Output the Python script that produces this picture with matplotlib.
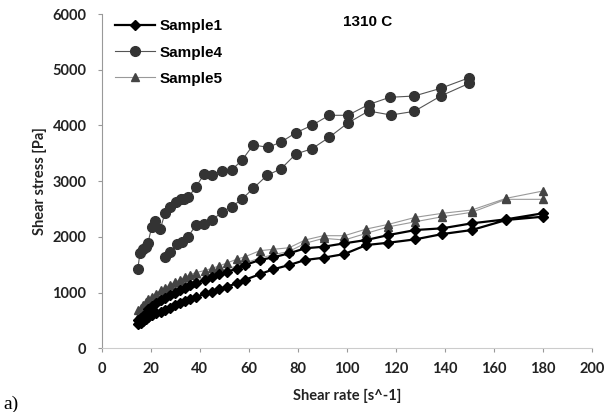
import matplotlib
matplotlib.use("Agg")
import matplotlib.pyplot as plt

plt.rcParams['font.family'] = ['Lato', 'DejaVu Sans']

# shear rate grid for Sample1 / Sample5 (up and down ramps share it)
rate_15 = [15, 16, 17, 18, 19, 20.5, 22, 24, 26, 28, 30, 32, 34, 36, 38.5, 42, 45,
           48, 51, 55, 58.5, 64.5, 70, 76.5, 83, 90.5, 99, 108, 117, 128, 139,
           151, 165, 180]

s1_low = [430, 460, 490, 520, 560, 590, 625, 655, 690, 730, 770, 820, 850, 880,
          915, 985, 1015, 1060, 1105, 1165, 1230, 1330, 1418, 1495, 1585, 1626,
          1692, 1854, 1895, 1956, 2051, 2123, 2303, 2362]
s1_high = [500, 540, 580, 620, 700, 760, 810, 860, 910, 960, 1000, 1050, 1090,
           1130, 1170, 1230, 1285, 1330, 1370, 1430, 1495, 1585, 1633, 1705,
           1795, 1823, 1884, 1944, 2033, 2123, 2154, 2243, 2315, 2423]

s5_low = [560, 600, 640, 690, 740, 800, 850, 900, 950, 1000, 1050, 1100, 1140,
          1180, 1220, 1280, 1330, 1380, 1420, 1480, 1530, 1620, 1680, 1740,
          1884, 1974, 1944, 2064, 2180, 2272, 2362, 2441, 2674, 2674]
s5_high = [680, 720, 770, 830, 880, 920, 980, 1040, 1090, 1140, 1190, 1230, 1280,
           1320, 1360, 1395, 1436, 1480, 1530, 1597, 1644, 1752, 1777, 1805,
           1944, 2021, 2021, 2141, 2225, 2351, 2423, 2482, 2692, 2823]

# Sample4 has its own grid
rate_s4_up = [14.7, 15.6, 17, 17.9, 18.8, 20.4, 21.7, 23.9, 25.8, 27.9, 30.3, 32.3,
              33.7, 35.3, 38.5, 41.8, 44.9, 48.9, 53, 57.3, 61.8, 67.8, 73.2, 79.2,
              85.8, 92.8, 100.4, 108.9, 117.5, 127.5, 138.3, 149.9]
s4_up = [1418, 1705, 1777, 1823, 1884, 2172, 2290, 2141, 2423, 2530, 2626, 2674,
         2685, 2710, 2900, 3128, 3105, 3177, 3200, 3379, 3650, 3607, 3702, 3869,
         4002, 4182, 4182, 4375, 4505, 4528, 4666, 4856]
rate_s4_down = [149.9, 138.3, 127.5, 118, 108.9, 100.4, 92.8, 85.8, 79.2, 73.2,
                67.5, 61.8, 57.3, 53, 49.2, 45.1, 41.8, 38.3, 35.3, 32.9, 30.6,
                27.9, 25.8]
s4_down = [4756, 4528, 4253, 4187, 4259, 4043, 3787, 3582, 3487, 3223, 3105, 2871,
           2679, 2541, 2452, 2303, 2231, 2207, 2003, 1908, 1872, 1728, 1633]

fig = plt.figure(figsize=(6.04, 4.12), dpi=100)
ax = fig.add_axes([0.1684, 0.1546, 0.8116, 0.8114])

ax.plot(rate_15 + rate_15[::-1], s1_low + s1_high[::-1], color='black', lw=1.6,
        marker='D', ms=5, mfc='black', mec='black', label='Sample1', zorder=4)
ax.plot(rate_s4_up + rate_s4_down, s4_up + s4_down, color='#555555', lw=0.8,
        marker='o', ms=7, mfc='#333333', mec='#333333', label='Sample4', zorder=3)
ax.plot(rate_15 + rate_15[::-1], s5_low + s5_high[::-1], color='#999999', lw=0.8,
        marker='^', ms=5.5, mfc='#444444', mec='#444444', label='Sample5', zorder=3)

ax.set_xlim(0, 200)
ax.set_ylim(0, 6000)
ax.set_xticks(range(0, 201, 20))
ax.set_yticks(range(0, 6001, 1000))
for s in ['top', 'right']:
    ax.spines[s].set_visible(False)
ax.spines['left'].set_color('#999999')
ax.spines['bottom'].set_color('#cccccc')
ax.tick_params(axis='both', colors='#999999', labelcolor='#222222', length=3,
               labelsize=10.5)
ax.tick_params(axis='x', pad=7)
ax.tick_params(axis='y', pad=8)
for lab in ax.get_xticklabels() + ax.get_yticklabels():
    lab.set_fontweight('bold')

ax.set_xlabel('Shear rate [s^-1]', fontsize=10.5, fontweight='bold',
              color='#222222', labelpad=9)
ax.set_ylabel('Shear stress [Pa]', fontsize=10.5, fontweight='bold',
              color='#222222', labelpad=4)

ax.text(98.5, 5850, '1310 C', fontsize=11, fontweight='bold', va='center',
        family=['Liberation Sans', 'DejaVu Sans'])

leg = ax.legend(loc='upper left', bbox_to_anchor=(0.0, 1.025), frameon=False,
                handlelength=2.6, handletextpad=0.3, labelspacing=0.8,
                prop={'family': 'Liberation Sans', 'weight': 'bold', 'size': 11})

fig.text(0.005, 0.008, 'a)', fontsize=14, family='Liberation Serif')

fig.savefig('out.png', dpi=100)
